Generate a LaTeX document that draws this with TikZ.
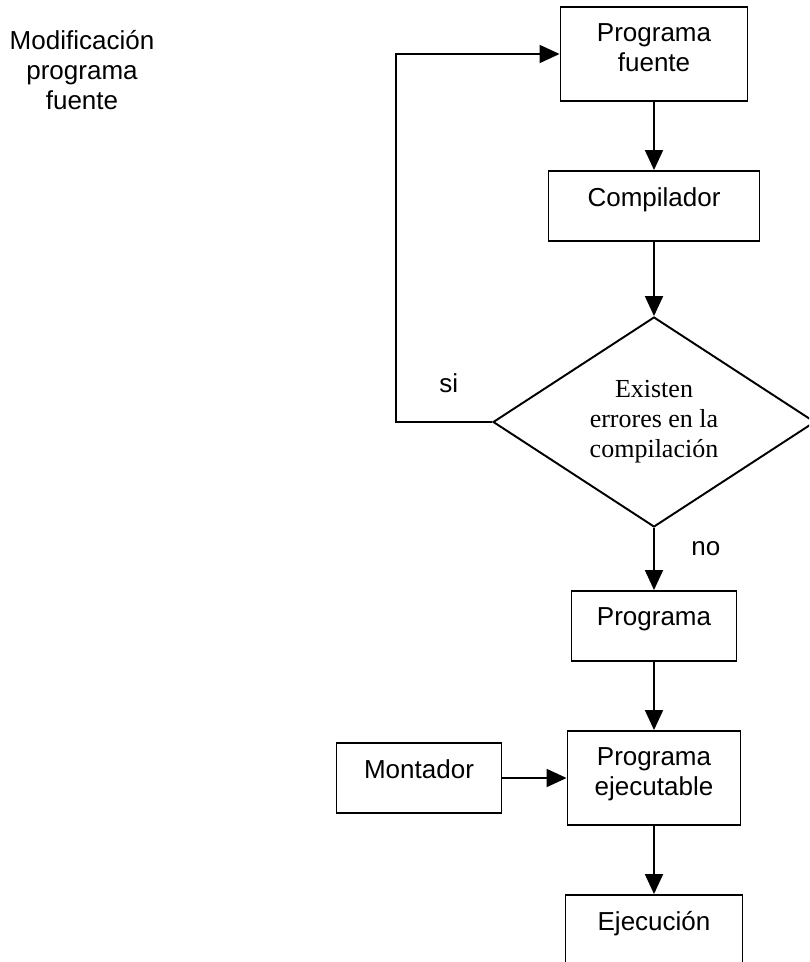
\documentclass[tikz,border=0pt]{standalone}
\usepackage{fontspec}
\setmainfont{Liberation Sans}
\newfontfamily\serifa{Liberation Serif}
\usetikzlibrary{arrows.meta, shapes.geometric, positioning}

\tikzset{
    caja/.style={draw, line width=1.1pt, inner sep=0pt},
    texto/.style={inner sep=0pt, align=center},
    rotulo/.style={texto, anchor=north, yshift=-0.34cm},
    flecha/.style={line width=1.1pt, -{Triangle[length=0.4cm, width=0.36cm]}}
}

\begin{document}
\begin{tikzpicture}[x=0.02cm, y=-0.02cm, font=\fontsize{14.8}{17.1}\selectfont]
    \clip (0,0) rectangle (809,962);

    \node[texto, anchor=north] (modif) at (82,30) {Modificación\\programa\\fuente};

    % Cajas del proceso
    \node[caja, minimum width=3.74cm, minimum height=1.88cm, label={[rotulo]north:Programa\\fuente}] (fuente) at (654,54) {};
    \node[caja, minimum width=4.22cm, minimum height=1.4cm, label={[rotulo]north:Compilador}] (compilador) at (654,206) {};
    \node[caja, diamond, shape aspect=1.5, minimum width=6.44cm, minimum height=4.2cm, align=center, font=\serifa\fontsize{14.8}{17.1}\selectfont] (errores) at (654,422) {Existen\\errores en la\\compilación};
    \node[caja, minimum width=3.3cm, minimum height=1.4cm, label={[rotulo]north:Programa}] (programa) at (654,626) {};
    \node[caja, minimum width=3.46cm, minimum height=1.88cm, label={[rotulo]north:Programa\\ejecutable}] (ejecutable) at (654,778) {};
    \node[caja, minimum width=3.3cm, minimum height=1.4cm, label={[rotulo]north:Montador}] (montador) at (419,778) {};
    \node[caja, minimum width=3.54cm, minimum height=1.88cm, label={[rotulo]north:Ejecución}] (ejecucion) at (654,942) {};

    % Flechas
    \draw[flecha] (fuente.south) -- (compilador.north);
    \draw[flecha] (compilador.south) -- (errores.north);
    \draw[flecha] (errores.south) -- node[pos=0.33, right=0.73cm, inner sep=0pt] (no) {no} (programa.north);
    \draw[flecha] (errores.west) -- node[pos=0.45, above=0.56cm, inner sep=0pt] (si) {si} ++(-96,0) |- (fuente.west);
    \draw[flecha] (programa.south) -- (ejecutable.north);
    \draw[flecha] (montador.east) -- (ejecutable.west);
    \draw[flecha] (ejecutable.south) -- (ejecucion.north);
\end{tikzpicture}
\end{document}
